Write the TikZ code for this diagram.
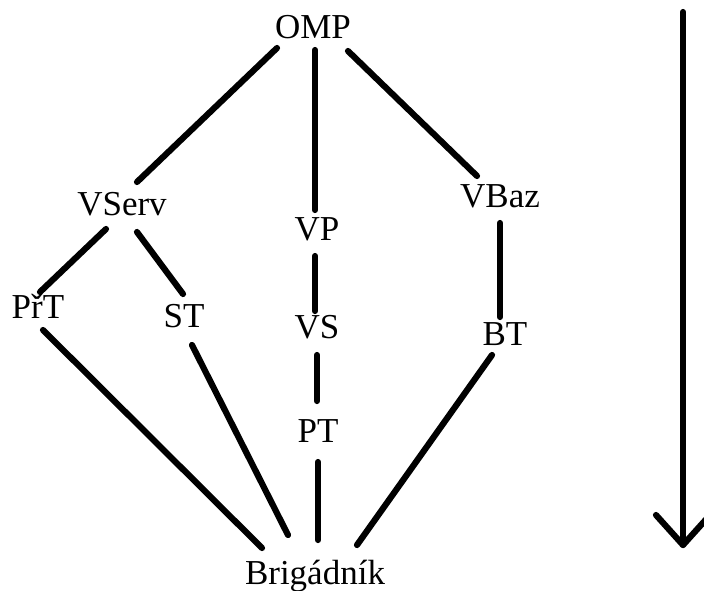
\documentclass[tikz,border=0pt]{standalone}
\usepackage{fontspec}
\setmainfont{Liberation Serif}
\begin{document}
\begin{tikzpicture}[x=1pt,y=-1pt,
  lbl/.style={anchor=base,inner sep=0pt,font=\fontsize{35}{40}\selectfont},
  conn/.style={line width=6.2pt,line cap=round}]
\useasboundingbox (0,0) rectangle (704,590);
\node[lbl] (OMP) at (313,38) {OMP};
\node[lbl] (VServ) at (122,215) {VServ};
\node[lbl] (VP) at (317,240) {VP};
\node[lbl] (VBaz) at (500,207) {VBaz};
\node[lbl] (PrT) at (38,318) {PřT};
\node[lbl] (ST) at (184,327) {ST};
\node[lbl] (VS) at (317,338) {VS};
\node[lbl] (BT) at (505,345) {BT};
\node[lbl] (PT) at (318,442) {PT};
\node[lbl] (Brig) at (315,584) {Brigádník};
\draw[conn] ([shift={(-36,10)}]OMP.base) -- ([shift={(15,-33)}]VServ.base);
\draw[conn] ([shift={(2,12)}]OMP.base) -- ([shift={(-2,-30)}]VP.base);
\draw[conn] ([shift={(35,13)}]OMP.base) -- ([shift={(-23,-31)}]VBaz.base);
\draw[conn] ([shift={(-16,14)}]VServ.base) -- ([shift={(2,-26)}]PrT.base);
\draw[conn] ([shift={(15,17)}]VServ.base) -- ([shift={(-1,-33)}]ST.base);
\draw[conn] ([shift={(-2,16)}]VP.base) -- ([shift={(-2,-27)}]VS.base);
\draw[conn] ([shift={(0,17)}]VS.base) -- ([shift={(-1,-41)}]PT.base);
\draw[conn] ([shift={(0,16)}]VBaz.base) -- ([shift={(-5,-28)}]BT.base);
\draw[conn] ([shift={(5,12)}]PrT.base) -- ([shift={(-53,-36)}]Brig.base);
\draw[conn] ([shift={(8,18)}]ST.base) -- ([shift={(-27,-49)}]Brig.base);
\draw[conn] ([shift={(0,20)}]PT.base) -- ([shift={(3,-44)}]Brig.base);
\draw[conn] ([shift={(-13,10)}]BT.base) -- ([shift={(42,-39)}]Brig.base);
\coordinate (arrTop) at (683,12);
\coordinate (arrTip) at (683,545);
\draw[conn] (arrTop) -- (arrTip);
\draw[conn,line join=round] ([shift={(-27,-30)}]arrTip) -- (arrTip) -- ([shift={(27,-30)}]arrTip);
\end{tikzpicture}
\end{document}
